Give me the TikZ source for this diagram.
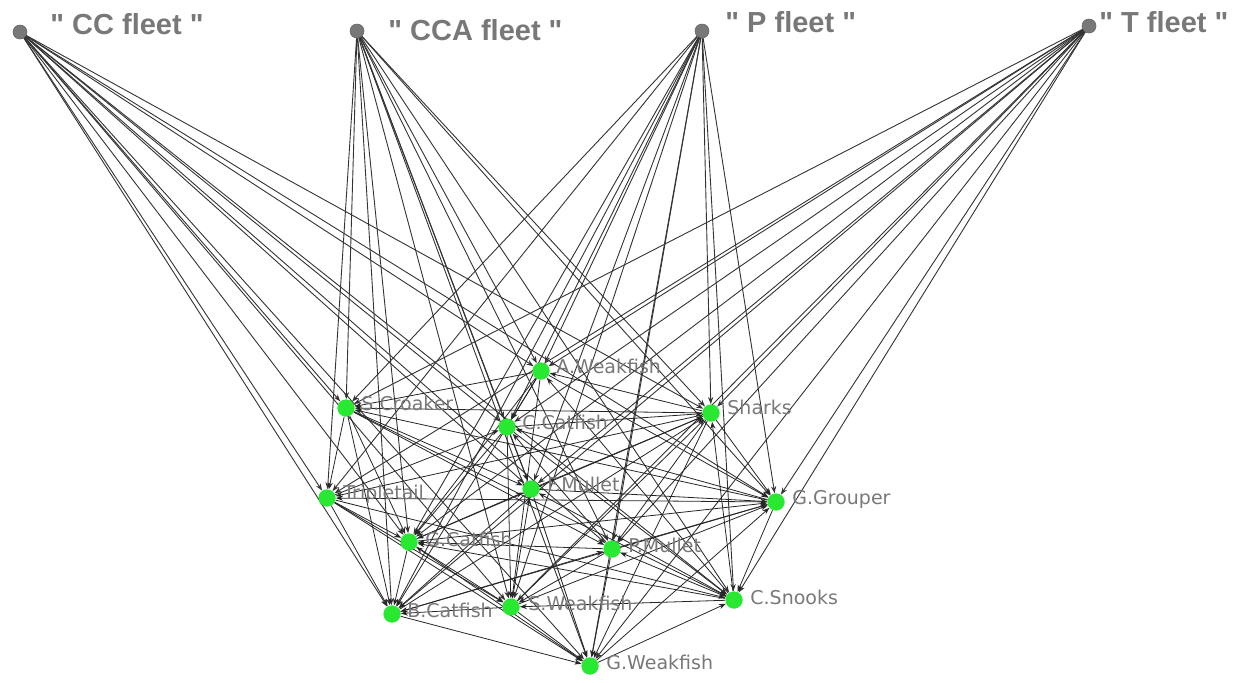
\documentclass[tikz,border=0pt]{standalone}
\usepackage{fontspec}
\setmainfont{DejaVu Sans}
\newfontfamily\fleetfont{Liberation Sans}
\usetikzlibrary{arrows.meta}
\definecolor{fishgreen}{RGB}{40,232,50}
\definecolor{lblgray}{RGB}{120,120,120}
\definecolor{fleetgray}{RGB}{120,120,120}
\begin{document}
\begin{tikzpicture}[x=0.5pt,y=-0.5pt,
  fish/.style={circle,fill=fishgreen,inner sep=0pt,minimum size=8.5pt},
  fleet/.style={circle,fill=fleetgray,draw=gray!80!black,line width=0.3pt,inner sep=0pt,minimum size=7pt},
  lbl/.style={anchor=west,text=lblgray,font=\fontsize{9.5}{11}\selectfont,inner sep=0pt},
  flbl/.style={anchor=west,text=lblgray,font=\fleetfont\bfseries\fontsize{14.5}{16}\selectfont,inner sep=0pt},
  link/.style={draw=black!85,line width=0.4pt,-{Stealth[length=3.5pt,width=2.6pt]}},
  flink/.style={draw=black!80,line width=0.45pt,-{Stealth[length=3.5pt,width=2.6pt]}}]
\useasboundingbox (0,0) rectangle (1251,682);
% fleets
\node[fleet] (fcc) at (20,32) {};
\node[fleet] (fcca) at (357,31) {};
\node[fleet] (fp) at (702,31) {};
\node[fleet] (ft) at (1089,26) {};
\node[flbl] (lfcc) at (50,24) {" CC fleet "};
\node[flbl] (lfcca) at (388,30) {" CCA fleet "};
\node[flbl] (lfp) at (725,22) {" P fleet "};
\node[flbl] (lft) at (1099,22) {" T fleet "};
% fish
\node[fish] (aw) at (541,371) {};
\node[fish] (sc) at (346,408) {};
\node[fish] (cc) at (507,427) {};
\node[fish] (sh) at (711,413) {};
\node[fish] (tt) at (327,498) {};
\node[fish] (fm) at (531,489) {};
\node[fish] (gg) at (776,502) {};
\node[fish] (gc) at (409,542) {};
\node[fish] (pm) at (612,549) {};
\node[fish] (bc) at (392,614) {};
\node[fish] (sw) at (511,607) {};
\node[fish] (cs) at (734,600) {};
\node[fish] (gw) at (590,666) {};
% fleet links
\foreach \f in {fcc,fcca,fp,ft}{
  \foreach \t in {aw,sc,cc,sh,tt,fm,gg,gc,pm,bc,sw,cs,gw}{
    \draw[flink] (\f) -- (\t);
  }
}
% fish links
\foreach \a/\b in {tt/gc,tt/bc,sc/tt,tt/sw,tt/gw,gg/tt,sh/tt,tt/cs,
  sc/bc,sc/gc,sh/sc,gg/sc,sc/cs,sc/fm,sc/pm,aw/sc,
  aw/cc,sh/aw,aw/gc,aw/bc,aw/gg,aw/sw,cs/aw,
  cc/sh,gg/cc,cc/cs,cc/fm,tt/cc,cc/gc,pm/cc,cc/sw,
  fm/sh,sh/gc,sh/gg,cs/sh,sh/pm,sh/gw,sw/sh,bc/sh,
  fm/gg,cs/fm,gc/fm,fm/bc,sw/fm,fm/gw,
  gc/gg,pm/gg,gg/cs,gw/gg,sw/gg,gg/bc,
  gc/bc,gc/sw,gw/gc,cs/gc,pm/gc,
  pm/sw,pm/gw,cs/pm,bc/pm,
  bc/gw,sw/bc,sw/gw,cs/sw,gw/cs}{
  \draw[link] (\a) -- (\b);
}
% redraw fish on top
\foreach \n/\x/\y in {aw/541/371,sc/346/408,cc/507/427,sh/711/413,tt/327/498,fm/531/489,gg/776/502,gc/409/542,pm/612/549,bc/392/614,sw/511/607,cs/734/600,gw/590/666}{
  \fill[fishgreen] (\x,\y) circle (4.25pt);
}
% labels
\node[lbl] (law) at (556,366) {A.Weakfish};
\node[lbl] (lsc) at (361,403) {S.Croaker};
\node[lbl] (lcc) at (522,422) {C.Catfish};
\node[lbl] (lsh) at (727,407) {Sharks};
\node[lbl] (ltt) at (343,494) {Tripletail};
\node[lbl] (lfm) at (547,484) {F.Mullet};
\node[lbl] (lgg) at (792,499) {G.Grouper};
\node[lbl] (lgc) at (425,539) {G.Catfish};
\node[lbl] (lpm) at (628,545) {P.Mullet};
\node[lbl] (lbc) at (407,610) {B.Catfish};
\node[lbl] (lsw) at (528,603) {S.Weakfish};
\node[lbl] (lcs) at (750,597) {C.Snooks};
\node[lbl] (lgw) at (606,662) {G.Weakfish};
\end{tikzpicture}
\end{document}
